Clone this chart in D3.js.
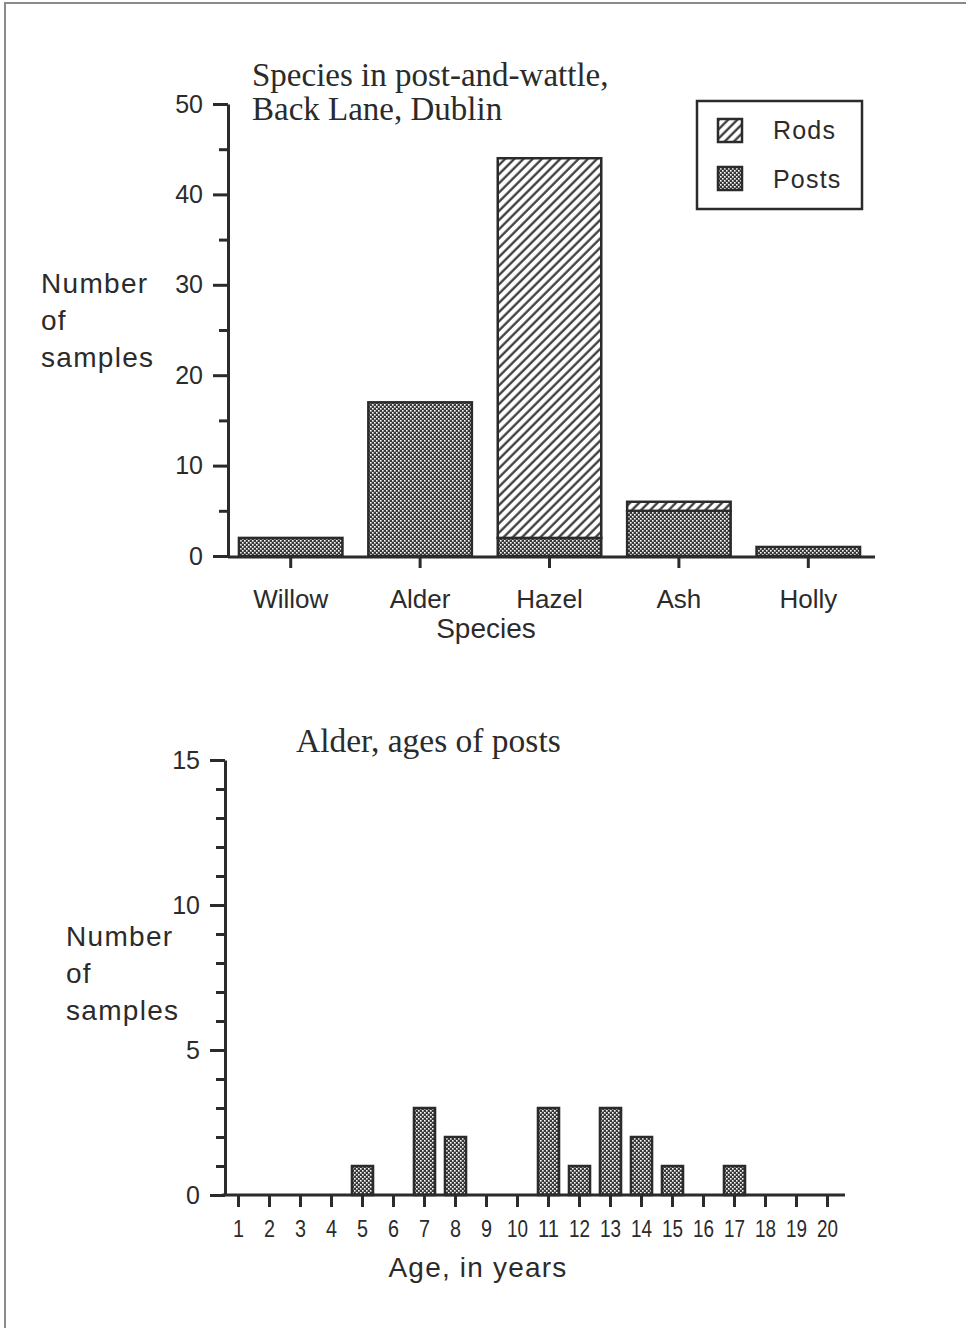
<!DOCTYPE html>
<html>
<head>
<meta charset="utf-8">
<script src="https://cdn.jsdelivr.net/npm/d3@7"></script>
<style>
  body { margin: 0; background: #fff; }
  text { fill: #2b2b2b; }
  .sans { font-family: "Liberation Sans", Arial, sans-serif; }
  .serif { font-family: "Liberation Serif", "Times New Roman", serif; }
  .axis path, .axis line { stroke: #2b2b2b; stroke-width: 3; }
</style>
</head>
<body>
<div id="chart"></div>
<script>
// Data
var species = ["Willow", "Alder", "Hazel", "Ash", "Holly"],
	posts = [2, 17, 2, 5, 1],
	rods = [0, 0, 42, 1, 0],
	topTicks = [0, 10, 20, 30, 40, 50],
	ages = d3.range(1, 21),
	alderCounts = [0, 0, 0, 0, 1, 0, 3, 2, 0, 0, 3, 1, 3, 2, 1, 0, 1, 0, 0, 0],
	bottomTicks = [0, 5, 10, 15];

var width = 966,
	height = 1328,
	ink = "#2b2b2b",
	svg = d3.select("#chart")
	.append("svg")
	.attr("width", width)
	.attr("height", height);

// patterns
var defs = svg.append("defs");
var stip = defs.append("pattern")
	.attr("id", "stipple")
	.attr("patternUnits", "userSpaceOnUse")
	.attr("width", 4)
	.attr("height", 4);
stip.append("rect").attr("width", 4).attr("height", 4).attr("fill", "#383838");
stip.append("rect").attr("x", 0).attr("y", 0).attr("width", 1.6).attr("height", 1.6).attr("fill", "#fff");
stip.append("rect").attr("x", 2).attr("y", 2).attr("width", 1.6).attr("height", 1.6).attr("fill", "#fff");

var hatch = defs.append("pattern")
	.attr("id", "hatch")
	.attr("patternUnits", "userSpaceOnUse")
	.attr("width", 6.5)
	.attr("height", 6.5)
	.attr("patternTransform", "rotate(45)");
hatch.append("rect").attr("width", 6.5).attr("height", 6.5).attr("fill", "#fff");
hatch.append("line")
	.attr("x1", 1.5).attr("y1", 0).attr("x2", 1.5).attr("y2", 6.5)
	.attr("stroke", "#333").attr("stroke-width", 2.2);

// page frame
svg.append("path")
	.attr("d", "M5,1328 L5,3 L966,3")
	.attr("fill", "none")
	.attr("stroke", "#8a8a8a")
	.attr("stroke-width", 2);

// ---------- top chart ----------
var y1 = d3.scaleLinear().domain([0, 50]).range([556, 104]),
	x1 = d3.scaleBand().domain(species).range([226, 873])
	.paddingInner(0.2).paddingOuter(0.1);

var stack = species.map(function(s, i) {
	return { name: s, posts: posts[i], rods: rods[i] };
});

var g1 = svg.append("g");

// bars: posts then rods on top
g1.selectAll(".post")
	.data(stack)
	.enter().append("rect")
	.attr("class", "post")
	.attr("x", function(d) { return x1(d.name); })
	.attr("width", x1.bandwidth())
	.attr("y", function(d) { return y1(d.posts); })
	.attr("height", function(d) { return y1(0) - y1(d.posts); })
	.attr("fill", "url(#stipple)")
	.attr("stroke", ink)
	.attr("stroke-width", 2.5);

g1.selectAll(".rod")
	.data(stack.filter(function(d) { return d.rods > 0; }))
	.enter().append("rect")
	.attr("class", "rod")
	.attr("x", function(d) { return x1(d.name); })
	.attr("width", x1.bandwidth())
	.attr("y", function(d) { return y1(d.posts + d.rods); })
	.attr("height", function(d) { return y1(d.posts) - y1(d.posts + d.rods); })
	.attr("fill", "url(#hatch)")
	.attr("stroke", ink)
	.attr("stroke-width", 2.5);

// y axis (major + minor ticks)
g1.append("g")
	.attr("class", "axis")
	.attr("transform", "translate(228,0)")
	.call(d3.axisLeft(y1).tickValues([5, 15, 25, 35, 45]).tickSize(9).tickSizeOuter(0).tickFormat(""))
	.call(function(g) { g.select(".domain").remove(); });
g1.append("g")
	.attr("class", "axis sans")
	.attr("transform", "translate(228,0)")
	.call(d3.axisLeft(y1).tickValues(topTicks).tickSize(15).tickSizeOuter(0).tickPadding(10))
	.call(function(g) {
		g.selectAll("text").attr("font-size", 25).style("font-family", "Liberation Sans, Arial, sans-serif");
	});

// x axis
g1.append("g")
	.attr("class", "axis sans")
	.attr("transform", "translate(0,557)")
	.call(d3.axisBottom(x1).tickSize(11).tickSizeOuter(0).tickFormat(""))
	.call(function(g) { g.select(".domain").attr("d", "M228,0H875"); });

g1.selectAll(".cat")
	.data(species)
	.enter().append("text")
	.attr("class", "cat sans")
	.attr("x", function(d) { return x1(d) + x1.bandwidth() / 2; })
	.attr("y", 608)
	.attr("text-anchor", "middle")
	.attr("font-size", 26)
	.text(function(d) { return d; });

g1.append("text")
	.attr("class", "sans")
	.attr("x", 486).attr("y", 638)
	.attr("text-anchor", "middle")
	.attr("font-size", 28)
	.text("Species");

g1.append("text")
	.attr("class", "sans")
	.attr("font-size", 28)
	.attr("letter-spacing", 1.3)
	.selectAll("tspan")
	.data(["Number", "of", "samples"])
	.enter().append("tspan")
	.attr("x", 41)
	.attr("y", function(d, i) { return 293 + i * 37; })
	.text(function(d) { return d; });

g1.append("text")
	.attr("class", "serif")
	.attr("font-size", 33)
	.selectAll("tspan")
	.data(["Species in post-and-wattle,", "Back Lane, Dublin"])
	.enter().append("tspan")
	.attr("x", 252)
	.attr("y", function(d, i) { return 86 + i * 34; })
	.text(function(d) { return d; });

// legend
var leg = g1.append("g");
leg.append("rect")
	.attr("x", 697).attr("y", 101)
	.attr("width", 165).attr("height", 108)
	.attr("fill", "#fff")
	.attr("stroke", ink)
	.attr("stroke-width", 2.5);
var legItems = [{ label: "Rods", fill: "url(#hatch)" }, { label: "Posts", fill: "url(#stipple)" }];
leg.selectAll(".sw")
	.data(legItems)
	.enter().append("rect")
	.attr("class", "sw")
	.attr("x", 718)
	.attr("y", function(d, i) { return 119 + i * 48; })
	.attr("width", 24).attr("height", 23)
	.attr("fill", function(d) { return d.fill; })
	.attr("stroke", ink)
	.attr("stroke-width", 2.5);
leg.selectAll(".lt")
	.data(legItems)
	.enter().append("text")
	.attr("class", "lt sans")
	.attr("x", 773)
	.attr("y", function(d, i) { return 139 + i * 49; })
	.attr("font-size", 25)
	.attr("letter-spacing", 1.2)
	.text(function(d) { return d.label; });

// ---------- bottom chart ----------
var y2 = d3.scaleLinear().domain([0, 15]).range([1195, 760]),
	x2 = d3.scaleBand().domain(ages).range([223, 843])
	.paddingInner(0.32).paddingOuter(0.16);

var g2 = svg.append("g");

g2.selectAll(".age")
	.data(ages.map(function(a, i) { return { age: a, n: alderCounts[i] }; }).filter(function(d) { return d.n > 0; }))
	.enter().append("rect")
	.attr("class", "age")
	.attr("x", function(d) { return x2(d.age); })
	.attr("width", x2.bandwidth())
	.attr("y", function(d) { return y2(d.n); })
	.attr("height", function(d) { return y2(0) - y2(d.n); })
	.attr("fill", "url(#stipple)")
	.attr("stroke", ink)
	.attr("stroke-width", 2.5);

g2.append("g")
	.attr("class", "axis")
	.attr("transform", "translate(225,0)")
	.call(d3.axisLeft(y2).tickValues(d3.range(1, 15).filter(function(v) { return v % 5; })).tickSize(9).tickFormat(""))
	.call(function(g) { g.select(".domain").remove(); });
g2.append("g")
	.attr("class", "axis")
	.attr("transform", "translate(225,0)")
	.call(d3.axisLeft(y2).tickValues(bottomTicks).tickSize(15).tickSizeOuter(0).tickPadding(10))
	.call(function(g) {
		g.selectAll("text").attr("font-size", 25).style("font-family", "Liberation Sans, Arial, sans-serif");
	});

g2.append("g")
	.attr("class", "axis")
	.attr("transform", "translate(0,1195)")
	.call(d3.axisBottom(x2).tickSize(12).tickSizeOuter(0).tickPadding(13))
	.call(function(g) {
		g.select(".domain").attr("d", "M222,0H845");
		g.selectAll("text")
			.attr("font-size", 24)
			.attr("textLength", function(d) { return d < 10 ? 11 : 21; })
			.attr("lengthAdjust", "spacingAndGlyphs")
			.style("font-family", "Liberation Sans, Arial, sans-serif");
	});

g2.append("text")
	.attr("class", "sans")
	.attr("x", 478).attr("y", 1277)
	.attr("text-anchor", "middle")
	.attr("font-size", 28)
	.attr("letter-spacing", 1.2)
	.text("Age, in years");

g2.append("text")
	.attr("class", "sans")
	.attr("font-size", 28)
	.attr("letter-spacing", 1.3)
	.selectAll("tspan")
	.data(["Number", "of", "samples"])
	.enter().append("tspan")
	.attr("x", 66)
	.attr("y", function(d, i) { return 946 + i * 37; })
	.text(function(d) { return d; });

g2.append("text")
	.attr("class", "serif")
	.attr("x", 296).attr("y", 752)
	.attr("font-size", 33.5)
	.text("Alder, ages of posts");
</script>
</body>
</html>
